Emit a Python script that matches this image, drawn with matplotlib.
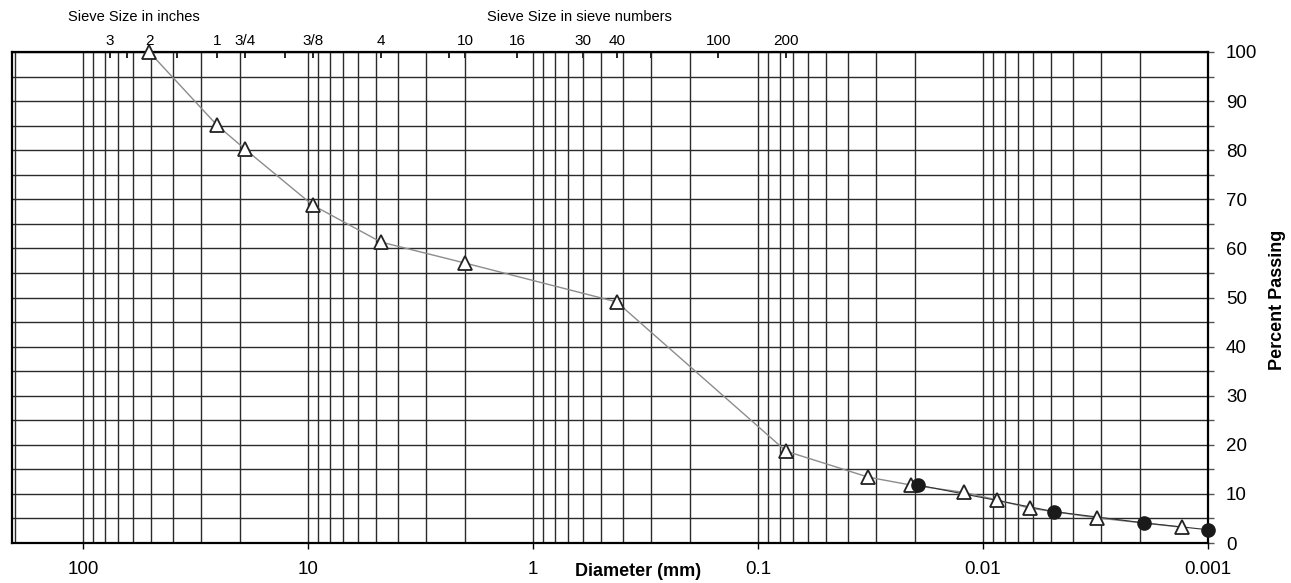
import matplotlib
matplotlib.use("Agg")
import matplotlib.pyplot as plt
from matplotlib.ticker import LogLocator, FixedLocator, NullFormatter, MultipleLocator

plt.rcParams['font.family'] = ['Liberation Sans', 'DejaVu Sans']

# sieve analysis (open triangles)
sieve_d = [50.8, 25.4, 19.05, 9.525, 4.75, 2.0, 0.425, 0.075,
           0.0323, 0.0209, 0.0121, 0.0087, 0.0062, 0.0031, 0.0013]
sieve_pct = [100, 85.1, 80.2, 68.8, 61.3, 57.0, 49.1, 18.7,
             13.4, 11.8, 10.3, 8.8, 7.1, 5.1, 3.2]

# hydrometer points (filled circles)
hydro_d = [0.0194, 0.00485, 0.00193, 0.001]
hydro_pct = [11.8, 6.4, 4.1, 2.7]

# top axis sieve sizes (mm) and labels
top_pos = [76.2, 63.5, 50.8, 38.1, 25.4, 19.05, 12.7, 9.525, 4.75,
           2.36, 2.0, 1.18, 0.6, 0.425, 0.3, 0.15, 0.075]
top_lbl = ['3', '', '2', '', '1', '3/4', '', '3/8', '4',
           '', '10', '16', '30', '40', '', '100', '200']

bottom_ticks = [100, 10, 1, 0.1, 0.01, 0.001]
bottom_lbl = ['100', '10', '1', '0.1', '0.01', '0.001']

fig = plt.figure(figsize=(12.91, 5.83), dpi=100)
ax = fig.add_axes([12/1291, 1-543/583, (1208-12)/1291, (543-52)/583])

ax.set_xscale('log')
ax.set_xlim(207, 0.001)
ax.set_ylim(0, 100)

# grid
ax.xaxis.set_major_locator(FixedLocator(bottom_ticks))
ax.xaxis.set_minor_locator(LogLocator(base=10, subs=range(2, 10), numticks=20))
ax.xaxis.set_minor_formatter(NullFormatter())
ax.set_xticklabels(bottom_lbl)
ax.yaxis.set_major_locator(MultipleLocator(10))
ax.yaxis.set_minor_locator(MultipleLocator(5))
ax.grid(which='both', color='#2a2a2a', lw=1.0)
ax.set_axisbelow(True)

ax.plot(sieve_d, sieve_pct, color='#8c8c8c', lw=1.0, zorder=3)
ax.plot(hydro_d, hydro_pct, color='#333333', lw=0.8, zorder=3)
ax.plot(sieve_d, sieve_pct, ls='none', marker='^', ms=10, mfc='white',
        mec='#222222', mew=1.3, zorder=4, clip_on=False)
ax.plot(hydro_d, hydro_pct, ls='none', marker='o', ms=9.5, mfc='#1a1a1a',
        mec='#1a1a1a', zorder=5, clip_on=False)

ax.yaxis.tick_right()
ax.tick_params(axis='y', which='both', direction='out', length=4, width=1,
               color='#555555', labelsize=13.5, pad=9, left=False)
ax.tick_params(axis='x', which='major', direction='out', length=4, width=1,
               labelsize=13.5, pad=9, top=False)
ax.tick_params(axis='x', which='minor', length=0)

for side in ['left', 'right', 'top', 'bottom']:
    ax.spines[side].set_linewidth(1.6)
    ax.spines[side].set_color('black')

# sieve sizes along the top
top = ax.secondary_xaxis('top')
top.set_xticks(top_pos)
top.set_xticklabels(top_lbl)
top.xaxis.set_minor_locator(FixedLocator([]))
top.tick_params(axis='x', direction='in', length=4, width=1.2, labelsize=11, pad=3)
top.spines['top'].set_visible(False)

fig.text(134/1291, 1-17/583, 'Sieve Size in inches', ha='center', va='center', fontsize=10.5)
fig.text(579/1291, 1-17/583, 'Sieve Size in sieve numbers', ha='center', va='center', fontsize=10.5)
fig.text(638/1291, 1-571/583, 'Diameter (mm)', ha='center', va='center',
         fontsize=13, fontweight='bold')
fig.text(1277/1291, 1-300/583, 'Percent Passing', ha='center', va='center',
         fontsize=13, fontweight='bold', rotation=90)

fig.savefig('out.png', dpi=100)
